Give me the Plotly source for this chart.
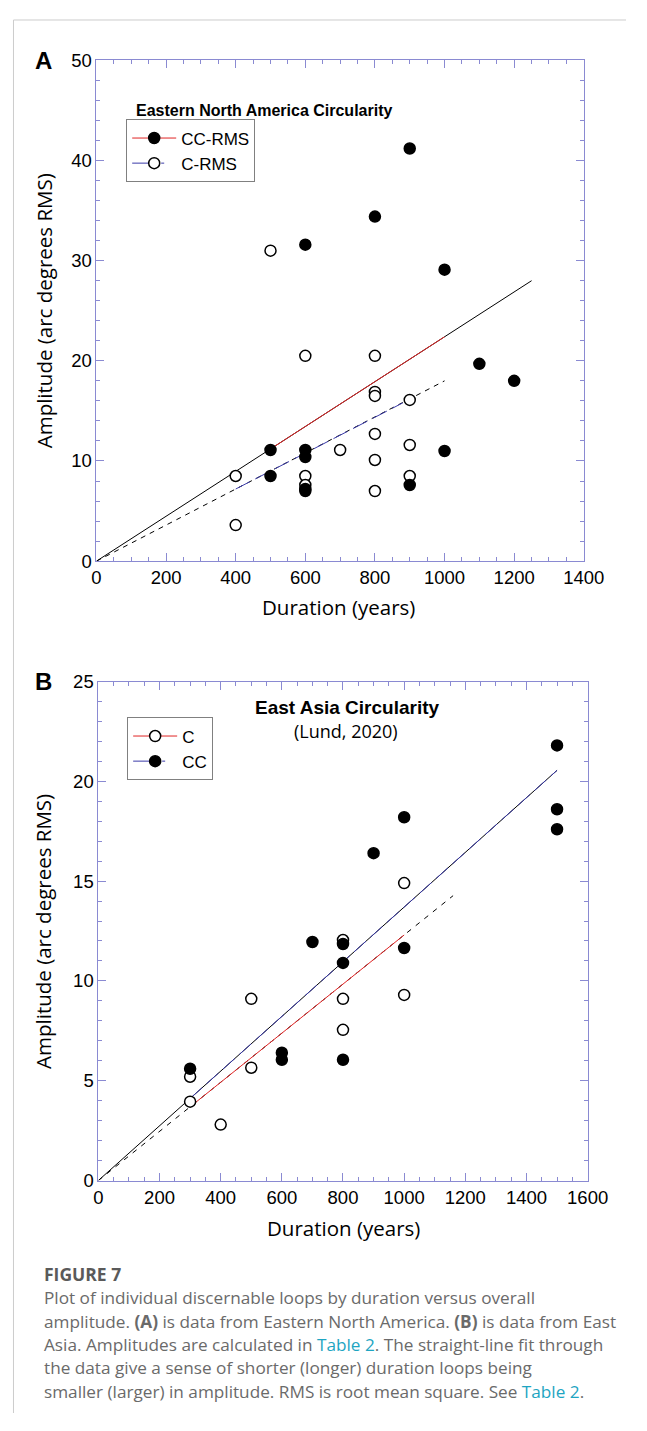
import plotly.graph_objects as go

# Page is 647x1431; the browser body keeps its default 8px margin,
# so the figure div is sized to fit inside it without overflow.
PAGE_W, PAGE_H = 647, 1431
OFF = 8
W, H = PAGE_W - OFF, PAGE_H - 2 * OFF

# ---------------- Panel A data (Eastern North America) ----------------
a_cc_dur = [500, 500, 600, 600, 600, 600, 600, 800, 900, 900, 1000, 1000, 1100, 1200]
a_cc_amp = [11.1, 8.5, 31.6, 11.1, 10.4, 7.2, 7.0, 34.4, 41.2, 7.6, 29.1, 11.0, 19.7, 18.0]
a_c_dur = [400, 400, 500, 600, 600, 600, 700, 800, 800, 800, 800, 800, 800, 900, 900, 900]
a_c_amp = [8.5, 3.6, 31.0, 20.5, 8.5, 7.6, 11.1, 20.5, 16.9, 16.5, 12.7, 10.1, 7.0, 16.1, 11.6, 8.5]
a_cc_fit_dur = [0, 1250]
a_cc_fit_amp = [0, 28.0]
a_cc_seg_dur = [500, 1000]
a_cc_seg_amp = [11.2, 22.4]
a_c_fit_dur = [0, 1000]
a_c_fit_amp = [0, 18.0]
a_c_seg_dur = [400, 880]
a_c_seg_amp = [7.2, 15.8]

# ---------------- Panel B data (East Asia) ----------------
b_c_dur = [300, 300, 400, 500, 500, 800, 800, 800, 1000, 1000]
b_c_amp = [5.2, 3.95, 2.8, 9.1, 5.65, 12.05, 9.1, 7.55, 14.9, 9.3]
b_cc_dur = [300, 600, 600, 700, 800, 800, 800, 900, 1000, 1000, 1500, 1500, 1500]
b_cc_amp = [5.6, 6.4, 6.05, 11.95, 11.85, 10.9, 6.05, 16.4, 18.2, 11.65, 21.8, 18.6, 17.6]
b_cc_fit_dur = [0, 1500]
b_cc_fit_amp = [0, 20.55]
b_cc_seg_dur = [300, 1500]
b_cc_seg_amp = [4.11, 20.55]
b_c_fit_dur = [0, 1160]
b_c_fit_amp = [0, 14.27]
b_c_seg_dur = [300, 1000]
b_c_seg_amp = [3.69, 12.3]

AXC = "#8a8ad2"
RED = "#e02424"
BLUE = "#3a3aa8"
MS = 11

fig = go.Figure()

def line(x, y, color, dash, xa, ya, width=1):
    fig.add_trace(go.Scatter(x=x, y=y, mode="lines", xaxis=xa, yaxis=ya,
                             line=dict(color=color, width=width, dash=dash),
                             showlegend=False, hoverinfo="skip"))

def pts(x, y, filled, xa, ya):
    fig.add_trace(go.Scatter(
        x=x, y=y, mode="markers", xaxis=xa, yaxis=ya, showlegend=False,
        marker=dict(size=MS, symbol="circle",
                    color="black" if filled else "white",
                    line=dict(color="black", width=1.5))))

# Panel A
line(a_cc_fit_dur, a_cc_fit_amp, "black", "solid", "x", "y")
line(a_c_fit_dur, a_c_fit_amp, "black", "5px,5px", "x", "y")
line(a_cc_seg_dur, a_cc_seg_amp, RED, "solid", "x", "y")
line(a_c_seg_dur, a_c_seg_amp, BLUE, "16px,6px", "x", "y")
pts(a_c_dur, a_c_amp, False, "x", "y")
pts(a_cc_dur, a_cc_amp, True, "x", "y")

# Panel B
line(b_cc_fit_dur, b_cc_fit_amp, "black", "solid", "x2", "y2")
line(b_c_fit_dur, b_c_fit_amp, "black", "5px,6px", "x2", "y2")
line(b_cc_seg_dur, b_cc_seg_amp, BLUE, "16px,6px", "x2", "y2")
line(b_c_seg_dur, b_c_seg_amp, RED, "solid", "x2", "y2")
pts(b_c_dur, b_c_amp, False, "x2", "y2")
pts(b_cc_dur, b_cc_amp, True, "x2", "y2")

# Legend entries
def leg(name, lcolor, dash, filled, legend):
    fig.add_trace(go.Scatter(
        x=[None], y=[None], mode="lines+markers", name=name, legend=legend,
        line=dict(color=lcolor, width=1, dash=dash),
        marker=dict(size=MS, color="black" if filled else "white",
                    line=dict(color="black", width=1.5))))

leg("CC-RMS", RED, "solid", True, "legend")
leg("C-RMS", BLUE, "20px,9px,3px,20px", False, "legend")
leg("C", RED, "solid", False, "legend2")
leg("CC", BLUE, "20px,9px,3px,20px", True, "legend2")

# page pixel -> paper coordinates
def px(x):
    return (x - OFF) / W

def py(y):
    return 1 - (y - OFF) / H

axis_common = dict(showline=True, linecolor=AXC, linewidth=1, mirror="ticks",
                   ticks="inside", ticklen=8, tickcolor=AXC, tickwidth=1,
                   showgrid=False, zeroline=False,
                   tickfont=dict(family="Liberation Sans, Arial", size=18.5, color="black"))

legend_common = dict(xanchor="left", yanchor="top", bordercolor="#808080",
                     borderwidth=1, bgcolor="white", itemwidth=44,
                     font=dict(family="Liberation Sans, Arial", size=17, color="black"),
                     tracegroupgap=0)

fig.update_layout(
    width=W, height=H, margin=dict(l=0, r=0, t=0, b=0),
    paper_bgcolor="white", plot_bgcolor="white",
    xaxis=dict(domain=[px(95), px(603)], range=[0, 1400], dtick=200, anchor="y",
               minor=dict(dtick=50, ticklen=4, tickcolor=AXC, ticks="inside"),
               **axis_common),
    yaxis=dict(domain=[py(558.3), py(50)], range=[0, 50], dtick=10, anchor="x",
               minor=dict(dtick=2, ticklen=4, tickcolor=AXC, ticks="inside"),
               **axis_common),
    xaxis2=dict(domain=[px(97), px(607)], range=[0, 1600], dtick=200, anchor="y2",
                minor=dict(dtick=50, ticklen=4, tickcolor=AXC, ticks="inside"),
                **axis_common),
    yaxis2=dict(domain=[py(1187), py(680.5)], range=[0, 25], dtick=5, anchor="x2",
                minor=dict(dtick=1, ticklen=4, tickcolor=AXC, ticks="inside"),
                **axis_common),
    legend=dict(x=px(126), y=py(110), **legend_common),
    legend2=dict(x=px(127), y=py(717), **legend_common),
    showlegend=True,
)

ann = []
def text(x, y, t, size, family="Liberation Sans, Arial", color="black",
         xanchor="center", yanchor="middle", angle=0):
    ann.append(dict(x=px(x), y=py(y), xref="paper", yref="paper", text=t,
                    showarrow=False, xanchor=xanchor, yanchor=yanchor,
                    textangle=angle, font=dict(family=family, size=size, color=color)))

SANS = "Open Sans, Noto Sans"
# Panel letters
text(40, 50, "<b>A</b>", 24)
text(40, 680, "<b>B</b>", 24)
# Titles
text(270, 101, "<b>Eastern North America Circularity</b>", 16)
text(357, 707, "<b>East Asia Circularity</b>", 19)
text(355, 731, "(Lund, 2020)", 18, family=SANS)
# Axis titles
text(40, 304, "Amplitude (arc degrees RMS)", 20.5, family=SANS, angle=-90)
text(347, 605, "Duration (years)", 20.5, family=SANS)
text(40, 934, "Amplitude (arc degrees RMS)", 20.5, family=SANS, angle=-90)
text(352, 1235, "Duration (years)", 20.5, family=SANS)

# Caption
CAP = "#6a6a6a"
LINK = "#1ea5c2"
text(38, 1282, "<b>FIGURE 7</b>", 17.5, family=SANS, color="#5a5a5a", xanchor="left")
cap_lines = [
    "Plot of individual discernable loops by duration versus overall",
    "amplitude. <b>(A)</b> is data from Eastern North America. <b>(B)</b> is data from East",
    "Asia. Amplitudes are calculated in <span style='color:%s'>Table 2</span>. The straight-line fit through" % LINK,
    "the data give a sense of shorter (longer) duration loops being",
    "smaller (larger) in amplitude. RMS is root mean square. See <span style='color:%s'>Table 2</span>." % LINK,
]
for i, l in enumerate(cap_lines):
    text(38, 1306 + i * 23.7, l, 17.2, family=SANS, color=CAP, xanchor="left")

fig.update_layout(annotations=ann)

# Page frame lines
fig.update_layout(shapes=[
    dict(type="line", xref="paper", yref="paper", x0=px(8.5), x1=1, y0=py(9), y1=py(9),
         line=dict(color="#cccccc", width=1)),
    dict(type="line", xref="paper", yref="paper", x0=px(8.5), x1=px(8.5), y0=py(9), y1=0,
         line=dict(color="#cccccc", width=1)),
])

fig.write_html("out.html", config={"displayModeBar": False})
